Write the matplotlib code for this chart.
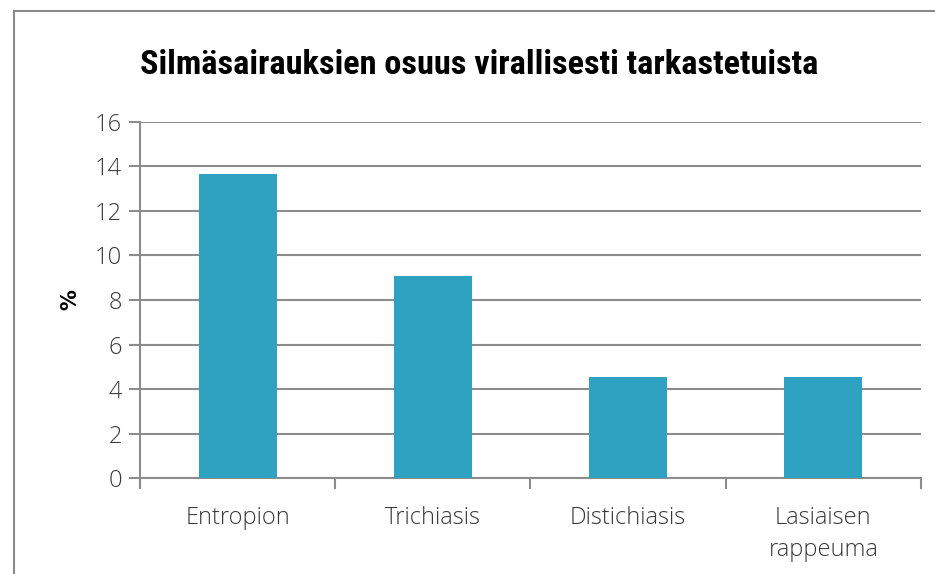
import matplotlib.pyplot as plt
from matplotlib.lines import Line2D
from matplotlib import font_manager

# Data
categories = ['Entropion', 'Trichiasis', 'Distichiasis', 'Lasiaisen\nrappeuma']
values = [13.64, 9.09, 4.55, 4.55]
yticks = [0, 2, 4, 6, 8, 10, 12, 14, 16]
title = 'Silmäsairauksien osuus virallisesti tarkastetuista'

names = {f.name for f in font_manager.fontManager.ttflist}
title_font = 'DejaVu Sans'
for cand in ['Liberation Sans Narrow', 'Roboto Condensed', 'Open Sans Condensed', 'Roboto']:
    if cand in names:
        title_font = cand
        break

grey = '#8c8c8c'
txt = '#3a3a3a'

fig = plt.figure(figsize=(9.35, 5.74), dpi=100)
ax = fig.add_axes([0.1497, 0.1672, 0.8353, 0.6203])

x = range(len(categories))
ax.bar(x, values, width=0.4, color='#2ea2c0', zorder=3)

ax.set_xlim(-0.5, len(categories) - 0.5)
ax.set_ylim(0, 16)
ax.set_yticks(yticks)
ax.set_yticklabels([str(t) for t in yticks], fontfamily='Open Sans', fontweight='light',
                   fontsize=17, color=txt)
ax.grid(axis='y', color=grey, linewidth=1.5, zorder=0)

# category labels between boundary ticks
ax.set_xticks([i - 0.5 for i in range(len(categories) + 1)])
ax.set_xticklabels([])
ax.set_xticks(list(x), minor=True)
ax.set_xticklabels(categories, minor=True, fontfamily='Open Sans', fontweight='light',
                   fontsize=17, color=txt, linespacing=1.45)
ax.tick_params(axis='x', which='minor', length=0, pad=20)
ax.tick_params(axis='x', which='major', length=8, width=1.5, color=grey)
ax.tick_params(axis='y', length=8, width=1.5, color=grey, pad=5)

for s in ['top', 'right']:
    ax.spines[s].set_visible(False)
for s in ['left', 'bottom']:
    ax.spines[s].set_color(grey)
    ax.spines[s].set_linewidth(1.5)
ax.spines['left'].set_bounds(-0.35, 16)

ax.set_ylabel('%', fontsize=15, fontweight='bold', color='black', labelpad=10)

# title, sized to fill the same width as the reference (~680 px)
t = fig.text(0.513, 1 - 65 / 574, title, ha='center', va='center',
             fontfamily=title_font, fontweight='bold', fontsize=24, color='black')
r = fig.canvas.get_renderer()
w = t.get_window_extent(renderer=r).width
t.set_fontsize(24 * 680 / w)

# outer frame (top and left edge)
fig.add_artist(Line2D([14 / 935, 1], [1 - 11 / 574, 1 - 11 / 574], color='#8a8a8a', linewidth=1.5))
fig.add_artist(Line2D([14 / 935, 14 / 935], [0, 1 - 11 / 574], color='#8a8a8a', linewidth=1.5))

fig.savefig('out.png', dpi=100)
